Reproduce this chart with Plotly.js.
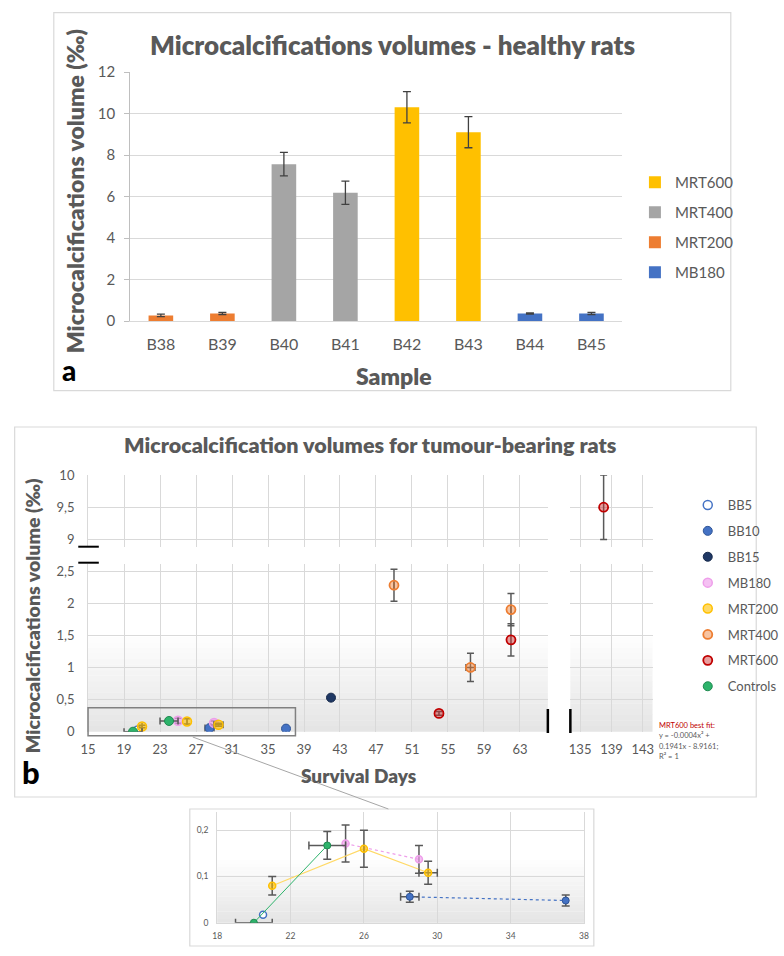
<!DOCTYPE html>
<html><head><meta charset="utf-8">
<script src="https://cdn.plot.ly/plotly-3.0.1.min.js"></script>
<style>html,body{margin:0;padding:0;background:#fff}#chart{width:784px;height:956px}</style>
</head><body><div id="chart"></div>
<script>
// ---------- Panel a data ----------
const samples = ['B38','B39','B40','B41','B42','B43','B44','B45'];
const mrt600Samples = ['B42','B43'];
const mrt600Vol = [10.3, 9.1];
const mrt600Err = [0.75, 0.75];
const mrt400Samples = ['B40','B41'];
const mrt400Vol = [7.56, 6.18];
const mrt400Err = [0.57, 0.56];
const mrt200Samples = ['B38','B39'];
const mrt200Vol = [0.27, 0.36];
const mrt200Err = [0.06, 0.05];
const mb180Samples = ['B44','B45'];
const mb180Vol = [0.36, 0.36];
const mb180Err = [0.03, 0.05];
const yTicksA = [0, 2, 4, 6, 8, 10, 12];

// ---------- Panel b data ----------
const bb5Days = [20.5];
const bb5Vol = [0.017];
const bb10Days = [28.5, 37];
const bb10Vol = [0.056, 0.048];
const bb10ErrY = [0.012, 0.012];
const bb10ErrX = [0.5, null];
const bb15Days = [42];
const bb15Vol = [0.53];
const mbDays = [25, 29];
const mbVol = [0.171, 0.137];
const mbErrY = [0.04, 0.03];
const m200Days = [21, 26, 29.5];
const m200Vol = [0.08, 0.16, 0.108];
const m200ErrY = [0.02, 0.04, 0.025];
const m200ErrX = [null, null, 0.5];
const m400Days = [49, 57.5, 62];
const m400Vol = [2.28, 1.0, 1.9];
const m400ErrY = [0.25, 0.22, 0.25];
const m400ErrX = [null, 0.5, null];
const m600Days = [54, 62, 138];
const m600Vol = [0.285, 1.43, 9.5];
const m600ErrY = [0.03, 0.25, 0.5];
const ctrlDays = [20, 24];
const ctrlVol = [0, 0.167];
const ctrlErrY = [null, 0.03];
const ctrlErrX = [1, 1];

const dayTicksLeft = [15,19,23,27,31,35,39,43,47,51,55,59,63];
const dayTicksRight = [135,139,143];
const volTicksLow = [0,0.5,1,1.5,2,2.5];
const volTickTextLow = ['0','0,5','1','1,5','2','2,5'];
const volTicksHigh = [9,9.5,10];
const volTickTextHigh = ['9','9,5','10'];
const insetDayTicks = [18,22,26,30,34,38];
const insetVolTicks = [0,0.1,0.2];
const insetVolText = ['0','0,1','0,2'];

// ---------- helpers ----------
const W = 784, H = 956;
const fx = p => p / W;
const fy = p => 1 - p / H;
const F = 'Lato, "Open Sans", sans-serif';
const GRAY = '#595959';
const GRID = '#d9d9d9';
const BOLD = 800;

const traces = [];

// Panel a bars
function barTrace(name, xs, ys, es, color) {
  return {
    type: 'bar', name: name, x: xs, y: ys, xaxis: 'x', yaxis: 'y',
    marker: { color: color },
    error_y: { type: 'data', array: es, color: '#404040', thickness: 1.3, width: 4 },
    legend: 'legend', legendgroup: name
  };
}
traces.push(barTrace('MRT600', mrt600Samples, mrt600Vol, mrt600Err, '#FFC000'));
traces.push(barTrace('MRT400', mrt400Samples, mrt400Vol, mrt400Err, '#A5A5A5'));
traces.push(barTrace('MRT200', mrt200Samples, mrt200Vol, mrt200Err, '#ED7D31'));
traces.push(barTrace('MB180', mb180Samples, mb180Vol, mb180Err, '#4472C4'));

// Panel b scatter series
const subplots = [['x2','y2'],['x3','y3'],['x4','y4'],['x5','y5'],['x6','y6']];
function addSeries(name, days, vol, errY, errX, marker, lineStyle) {
  subplots.forEach((ax, i) => {
    const inset = ax[0] === 'x6';
    if (inset && lineStyle) {
      traces.push({
        type: 'scatter', mode: 'lines', x: days, y: vol, xaxis: ax[0], yaxis: ax[1],
        line: lineStyle, showlegend: false, hoverinfo: 'skip'
      });
    }
    const t = {
      type: 'scatter', mode: 'markers', name: name, x: days, y: vol,
      xaxis: ax[0], yaxis: ax[1],
      marker: Object.assign({}, marker, { size: inset ? 7 : 9, line: Object.assign({}, marker.line) }),
      showlegend: i === 0, legend: 'legend2', legendgroup: name
    };
    if (errY) t.error_y = { type: 'data', array: errY, color: GRAY, thickness: 1.5, width: inset ? 4 : 3.5 };
    if (errX) t.error_x = { type: 'data', array: errX, color: GRAY, thickness: 1.5, width: inset ? 4 : 3.5 };
    traces.push(t);
  });
}
addSeries('BB5', bb5Days, bb5Vol, null, null,
  { color: '#ffffff', line: { color: '#4472C4', width: 1.5 } }, null);
addSeries('BB10', bb10Days, bb10Vol, bb10ErrY, bb10ErrX,
  { color: '#4472C4', line: { color: '#2F5597', width: 1 } },
  { color: '#4472C4', width: 1.2, dash: 'dot' });
addSeries('BB15', bb15Days, bb15Vol, null, null,
  { color: '#1F3864', line: { color: '#15284a', width: 1 } }, null);
addSeries('MB180', mbDays, mbVol, mbErrY, null,
  { color: 'rgba(240,160,236,0.65)', line: { color: '#EE9EEA', width: 1.5 } },
  { color: '#EE9EEA', width: 1.2, dash: 'dot' });
addSeries('MRT200', m200Days, m200Vol, m200ErrY, m200ErrX,
  { color: 'rgba(255,192,0,0.6)', line: { color: '#FFC000', width: 1.5 } },
  { color: '#FFD966', width: 1.2 });
addSeries('MRT400', m400Days, m400Vol, m400ErrY, m400ErrX,
  { color: 'rgba(237,125,49,0.45)', line: { color: '#ED7D31', width: 1.8 } }, null);
addSeries('MRT600', m600Days, m600Vol, m600ErrY, null,
  { color: 'rgba(205,40,40,0.45)', line: { color: '#C00000', width: 1.8 } }, null);
addSeries('Controls', ctrlDays, ctrlVol, ctrlErrY, ctrlErrX,
  { color: '#2DB36B', line: { color: '#1f8a50', width: 1 } },
  { color: '#2DB36B', width: 1 });

// ---------- axes ----------
const tickF = (s) => ({ family: F, size: s, color: GRAY });
function baseAx(extra) {
  return Object.assign({ showgrid: true, gridcolor: GRID, gridwidth: 1, zeroline: false,
    ticks: '', fixedrange: true }, extra);
}
const layout = {
  width: W, height: H, margin: { l: 0, r: 0, t: 0, b: 0 },
  paper_bgcolor: '#ffffff', plot_bgcolor: 'rgba(0,0,0,0)',
  showlegend: true, barmode: 'overlay', bargap: 0.6, hovermode: false,
  font: { family: F, color: GRAY },
  xaxis: baseAx({ domain: [fx(133), fx(636)], anchor: 'y', type: 'category',
    categoryorder: 'array', categoryarray: samples, showgrid: false,
    showline: true, linecolor: GRID, tickfont: tickF(16), ticklabelstandoff: 9 }),
  yaxis: baseAx({ domain: [fy(321), fy(72)], anchor: 'x', range: [0, 12], tickvals: yTicksA,
    showline: true, linecolor: '#bfbfbf', ticks: 'outside', ticklen: 5, tickcolor: '#bfbfbf',
    tickfont: tickF(15), ticklabelstandoff: 6 }),
  xaxis2: baseAx({ domain: [fx(90), fx(560)], anchor: 'y2', range: [15, 66.1], tickvals: dayTicksLeft,
    tickfont: tickF(13), ticklabelstandoff: 8 }),
  yaxis2: baseAx({ domain: [fy(731.7), fy(564)], anchor: 'x2', range: [0, 2.61],
    tickvals: volTicksLow, ticktext: volTickTextLow, showline: true, linecolor: GRID,
    tickfont: tickF(13), ticklabelstandoff: 10 }),
  xaxis3: baseAx({ domain: [fx(90), fx(560)], anchor: 'y3', range: [15, 66.1], tickvals: dayTicksLeft,
    showticklabels: false }),
  yaxis3: baseAx({ domain: [fy(546.5), fy(475)], anchor: 'x3', range: [8.89, 10],
    tickvals: volTicksHigh, ticktext: volTickTextHigh, showline: true, linecolor: GRID,
    tickfont: tickF(13), ticklabelstandoff: 10 }),
  xaxis4: baseAx({ domain: [fx(583), fx(667)], anchor: 'y4', range: [133.75, 144.25],
    tickvals: dayTicksRight, tickfont: tickF(13), ticklabelstandoff: 8 }),
  yaxis4: baseAx({ domain: [fy(731.7), fy(564)], anchor: 'x4', range: [0, 2.61],
    tickvals: volTicksLow, showticklabels: false }),
  xaxis5: baseAx({ domain: [fx(583), fx(667)], anchor: 'y5', range: [133.75, 144.25],
    tickvals: dayTicksRight, showticklabels: false }),
  yaxis5: baseAx({ domain: [fy(546.5), fy(475)], anchor: 'x5', range: [8.89, 10],
    tickvals: volTicksHigh, showticklabels: false }),
  xaxis6: baseAx({ domain: [fx(222), fx(597)], anchor: 'y6', range: [18, 38], tickvals: insetDayTicks,
    showline: true, linecolor: GRID, tickfont: tickF(8.5), ticklabelstandoff: 5 }),
  yaxis6: baseAx({ domain: [fy(922.7), fy(811.7)], anchor: 'x6', range: [0, 0.24],
    tickvals: insetVolTicks, ticktext: insetVolText, showline: true, mirror: true, linecolor: GRID,
    tickfont: tickF(8.5), ticklabelstandoff: 6 }),
  legend: { x: fx(649), y: fy(166), xanchor: 'left', yanchor: 'top', bgcolor: 'rgba(0,0,0,0)',
    font: { family: F, size: 15, color: GRAY }, traceorder: 'grouped', tracegroupgap: 7.5 },
  legend2: { x: fx(703), y: fy(490), xanchor: 'left', yanchor: 'top', bgcolor: 'rgba(0,0,0,0)',
    font: { family: F, size: 13, color: GRAY }, traceorder: 'grouped', tracegroupgap: 6 },
  shapes: [],
  annotations: []
};

// gradient backgrounds in lower panels
function gradient(xr, yr) {
  const N = 18;
  for (let i = 0; i < N; i++) {
    const t = i / (N - 1);
    const c = Math.round(229 + (255 - 229) * t);
    layout.shapes.push({ type: 'rect', xref: xr + ' domain', yref: yr + ' domain',
      x0: 0, x1: 1, y0: 0.6 * i / N, y1: 0.6 * (i + 1) / N + 0.002,
      fillcolor: `rgb(${c},${c},${c})`, line: { width: 0 }, layer: 'below' });
  }
}
gradient('x2', 'y2'); gradient('x4', 'y4'); gradient('x6', 'y6');

function pRect(x0, y0, x1, y1, color, w) {
  layout.shapes.push({ type: 'rect', xref: 'paper', yref: 'paper', x0: fx(x0), x1: fx(x1),
    y0: fy(y1), y1: fy(y0), line: { color: color, width: w }, fillcolor: 'rgba(0,0,0,0)', layer: 'above' });
}
function pLine(x0, y0, x1, y1, color, w) {
  layout.shapes.push({ type: 'line', xref: 'paper', yref: 'paper', x0: fx(x0), x1: fx(x1),
    y0: fy(y0), y1: fy(y1), line: { color: color, width: w }, layer: 'above' });
}
pRect(55, 12.7, 747, 390.7, GRID, 1.2);
pRect(15, 427, 773, 797, GRID, 1.2);
pRect(194, 809, 607, 946, GRID, 1.2);
pRect(90, 707.7, 302, 735.7, '#808080', 1.5);
pLine(197, 737, 397, 809, '#a6a6a6', 1);
pLine(80, 546.7, 101, 546.7, '#000', 2);
pLine(80, 562.7, 101, 562.7, '#000', 2);
pLine(560, 709, 560, 733, '#000', 2.5);
pLine(583, 709, 583, 733, '#000', 2.5);

function ann(text, x, y, size, opts) {
  layout.annotations.push(Object.assign({ text: text, xref: 'paper', yref: 'paper', x: fx(x), y: fy(y),
    xanchor: 'center', yanchor: 'middle', showarrow: false,
    font: { family: F, size: size, color: GRAY, weight: BOLD } }, opts || {}));
}
ann('Microcalcifications volumes - healthy rats', 401, 45, 26);
ann('Microcalcifications volume (‰)', 77, 191, 23, { textangle: -90 });
ann('Sample', 403, 376, 23);
ann('a', 71, 370, 28, { font: { family: F, size: 28, color: '#000', weight: 900 } });
ann('Microcalcification volumes for tumour-bearing rats', 379, 445, 21.5);
ann('Microcalcifications volume (‰)', 33, 616, 19.5, { textangle: -90 });
ann('Survival Days', 366, 775, 19);
ann('b', 32, 772, 31, { font: { family: F, size: 31, color: '#000', weight: 900 } });
const fitLines = ['MRT600 best fit:', 'y = -0.0004x² +', '0.1941x - 8.9161;', 'R² = 1'];
const fitY = [725, 735.5, 746, 756];
fitLines.forEach((s, i) => ann(s, 672, fitY[i], 7.5, { xanchor: 'left',
  font: { family: F, size: 7.5, color: i === 0 ? '#C00000' : GRAY } }));

Plotly.newPlot('chart', traces, layout, { staticPlot: true, displayModeBar: false });
</script>
</body></html>
